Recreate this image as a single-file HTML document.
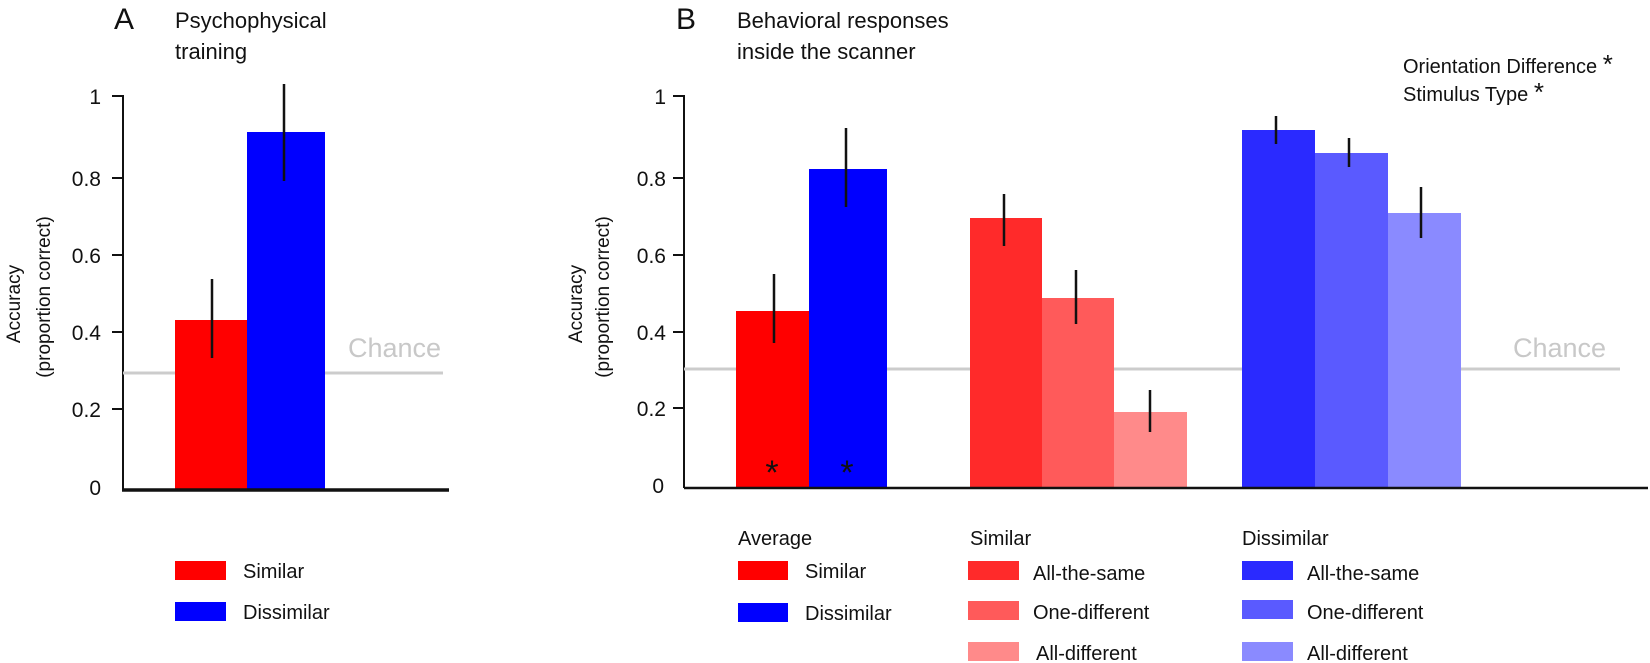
<!DOCTYPE html>
<html><head><style>body{margin:0;background:#fff}svg{display:block}text{font-family:"Liberation Sans",Arial,sans-serif;fill:#111}</style></head>
<body>
<svg width="1650" height="663" viewBox="0 0 1650 663">
<g font-size="21">
<!-- Panel A -->
<text x="114" y="29" font-size="30">A</text>
<text x="175" y="28" font-size="22">Psychophysical</text>
<text x="175" y="59" font-size="22">training</text>
<text transform="translate(20,304) rotate(-90)" text-anchor="middle" font-size="19">Accuracy</text>
<text transform="translate(50,297) rotate(-90)" text-anchor="middle" font-size="19">(proportion correct)</text>
<line x1="123" y1="95" x2="123" y2="489" stroke="#111" stroke-width="2"/>
<g stroke="#111" stroke-width="2">
<line x1="112" y1="96" x2="123" y2="96"/><line x1="112" y1="178" x2="123" y2="178"/><line x1="112" y1="255" x2="123" y2="255"/><line x1="112" y1="332" x2="123" y2="332"/><line x1="112" y1="409" x2="123" y2="409"/></g>
<g text-anchor="end"><text x="101" y="104">1</text><text x="101" y="186">0.8</text><text x="101" y="263">0.6</text><text x="101" y="340">0.4</text><text x="101" y="417">0.2</text><text x="101" y="495">0</text></g>
<line x1="123" y1="373" x2="443" y2="373" stroke="#ccc" stroke-width="3"/>
<text x="348" y="357" font-size="27" style="fill:#c8c8c8">Chance</text>
<rect x="175" y="320" width="72" height="169" fill="#ff0000"/>
<rect x="247" y="132" width="78" height="357" fill="#0000ff"/>
<line x1="212" y1="279" x2="212" y2="358" stroke="#111" stroke-width="2.5"/>
<line x1="284" y1="84" x2="284" y2="181" stroke="#111" stroke-width="2.5"/>
<line x1="122" y1="490" x2="449" y2="490" stroke="#111" stroke-width="3.5"/>
<rect x="175" y="561" width="51" height="19" fill="#ff0000"/><text x="243" y="578" font-size="20">Similar</text>
<rect x="175" y="602" width="51" height="19" fill="#0000ff"/><text x="243" y="619" font-size="20">Dissimilar</text>

<!-- Panel B -->
<text x="676" y="29" font-size="30">B</text>
<text x="737" y="28" font-size="22">Behavioral responses</text>
<text x="737" y="59" font-size="22">inside the scanner</text>
<text x="1403" y="73" font-size="20">Orientation Difference <tspan font-size="26">*</tspan></text>
<text x="1403" y="101" font-size="20">Stimulus Type <tspan font-size="26">*</tspan></text>
<text transform="translate(582,304) rotate(-90)" text-anchor="middle" font-size="19">Accuracy</text>
<text transform="translate(609,297) rotate(-90)" text-anchor="middle" font-size="19">(proportion correct)</text>
<line x1="684" y1="95" x2="684" y2="488" stroke="#111" stroke-width="2"/>
<g stroke="#111" stroke-width="2">
<line x1="673" y1="96" x2="684" y2="96"/><line x1="673" y1="178" x2="684" y2="178"/><line x1="673" y1="255" x2="684" y2="255"/><line x1="673" y1="332" x2="684" y2="332"/><line x1="673" y1="408" x2="684" y2="408"/></g>
<g text-anchor="end"><text x="666" y="104">1</text><text x="666" y="186">0.8</text><text x="666" y="263">0.6</text><text x="666" y="340">0.4</text><text x="666" y="416">0.2</text><text x="664" y="493">0</text></g>
<line x1="684" y1="369" x2="1620" y2="369" stroke="#ccc" stroke-width="3"/>
<text x="1513" y="357" font-size="27" style="fill:#c8c8c8">Chance</text>
<rect x="736" y="311" width="73" height="177" fill="#ff0000"/>
<rect x="809" y="169" width="78" height="319" fill="#0000ff"/>
<rect x="970" y="218" width="72" height="270" fill="#ff2a2a"/>
<rect x="1042" y="298" width="72" height="190" fill="#ff5a5a"/>
<rect x="1114" y="412" width="73" height="76" fill="#ff8a8a"/>
<rect x="1242" y="130" width="73" height="358" fill="#2a2aff"/>
<rect x="1315" y="153" width="73" height="335" fill="#5a5aff"/>
<rect x="1388" y="213" width="73" height="275" fill="#8a8aff"/>
<g stroke="#111" stroke-width="2.5">
<line x1="774" y1="274" x2="774" y2="343"/><line x1="846" y1="128" x2="846" y2="207"/>
<line x1="1004" y1="194" x2="1004" y2="246"/><line x1="1076" y1="270" x2="1076" y2="324"/><line x1="1150" y1="390" x2="1150" y2="432"/>
<line x1="1276" y1="116" x2="1276" y2="144"/><line x1="1349" y1="138" x2="1349" y2="167"/><line x1="1421" y1="187" x2="1421" y2="238"/></g>
<text x="772" y="484" font-size="34" text-anchor="middle">*</text>
<text x="847" y="484" font-size="34" text-anchor="middle">*</text>
<line x1="684" y1="488" x2="1648" y2="488" stroke="#111" stroke-width="2.5"/>
<text x="738" y="545" font-size="20">Average</text>
<rect x="738" y="561" width="50" height="19" fill="#ff0000"/><text x="805" y="578" font-size="20">Similar</text>
<rect x="738" y="603" width="50" height="19" fill="#0000ff"/><text x="805" y="620" font-size="20">Dissimilar</text>
<text x="970" y="545" font-size="20">Similar</text>
<rect x="968" y="561" width="51" height="19" fill="#ff2a2a"/><text x="1033" y="580" font-size="20">All-the-same</text>
<rect x="968" y="601" width="51" height="19" fill="#ff5a5a"/><text x="1033" y="619" font-size="20">One-different</text>
<rect x="968" y="642" width="51" height="19" fill="#ff8a8a"/><text x="1036" y="660" font-size="20">All-different</text>
<text x="1242" y="545" font-size="20">Dissimilar</text>
<rect x="1242" y="561" width="51" height="19" fill="#2a2aff"/><text x="1307" y="580" font-size="20">All-the-same</text>
<rect x="1242" y="600" width="51" height="19" fill="#5a5aff"/><text x="1307" y="619" font-size="20">One-different</text>
<rect x="1242" y="642" width="51" height="19" fill="#8a8aff"/><text x="1307" y="660" font-size="20">All-different</text>
</g>
</svg>
</body></html>
